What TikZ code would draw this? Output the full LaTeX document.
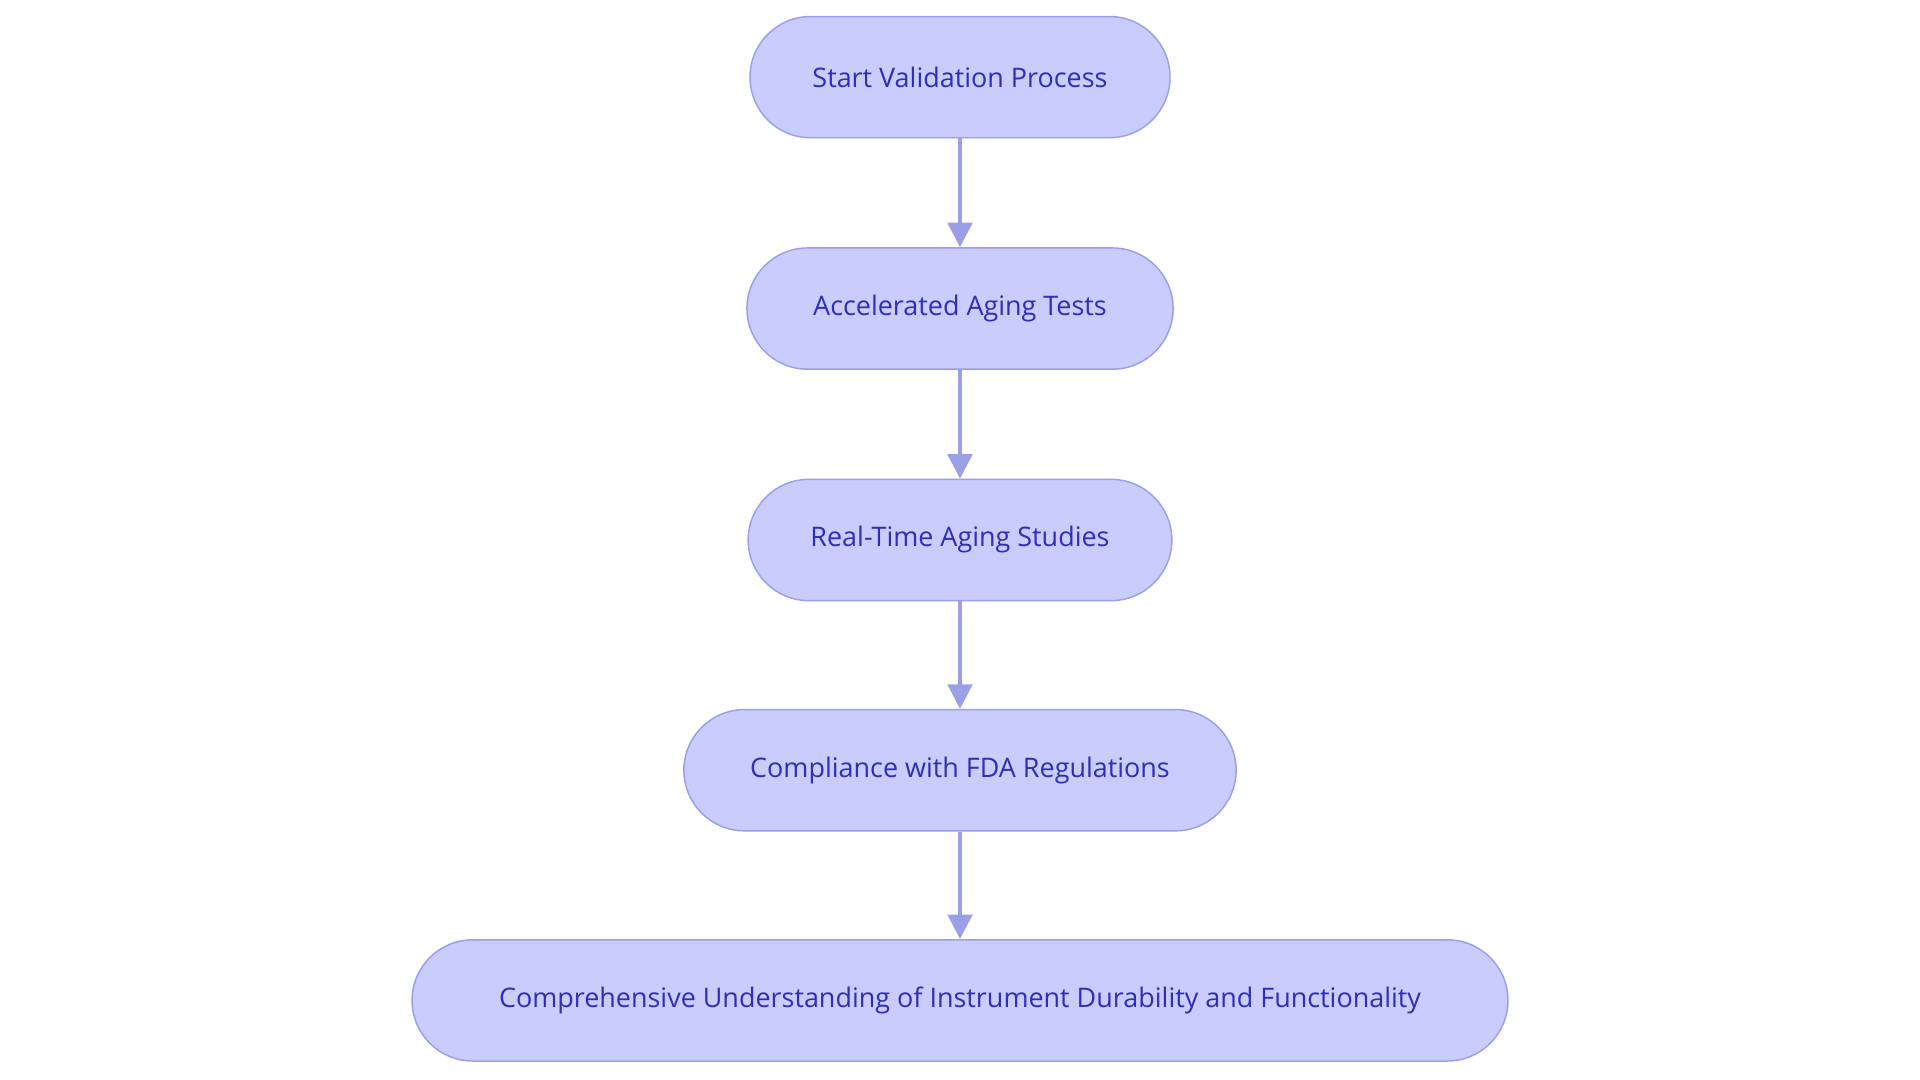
\documentclass[tikz,border=0pt]{standalone}
\usepackage{fontspec}
\setmainfont{Open Sans}
\usetikzlibrary{positioning,arrows.meta}
\definecolor{stepfill}{HTML}{CACCFD}
\definecolor{stepline}{HTML}{9A9FE8}
\definecolor{steptext}{HTML}{2E2EB8}
\begin{document}
\begin{tikzpicture}[x=1pt,y=-1pt]
        \tikzset{stage/.style={rounded corners=49.5pt, draw=stepline, line width=1.2pt,
                              fill=stepfill, text=steptext, minimum height=99pt,
                              font=\fontsize{22}{26}\selectfont},
                 flow/.style={draw=stepline, line width=3pt,
                              -{Triangle[length=20pt,width=20pt]}}}
        \useasboundingbox (0,0) rectangle (1568,882);

        \node[stage, minimum width=343pt] (start) at (784,63) {Start Validation Process};
        \node[stage, minimum width=348pt] (accel) at (784,252) {Accelerated Aging Tests};
        \node[stage, minimum width=346pt] (real) at (784,441) {Real-Time Aging Studies};
        \node[stage, minimum width=451pt] (fda) at (784,629) {Compliance with FDA Regulations};
        \node[stage, minimum width=895pt] (under) at (784,817)
              {Comprehensive Understanding of Instrument Durability and Functionality};

        \draw[flow] (start) -- (accel);
        \draw[flow] (accel) -- (real);
        \draw[flow] (real) -- (fda);
        \draw[flow] (fda) -- (under);
      \end{tikzpicture}
\end{document}
